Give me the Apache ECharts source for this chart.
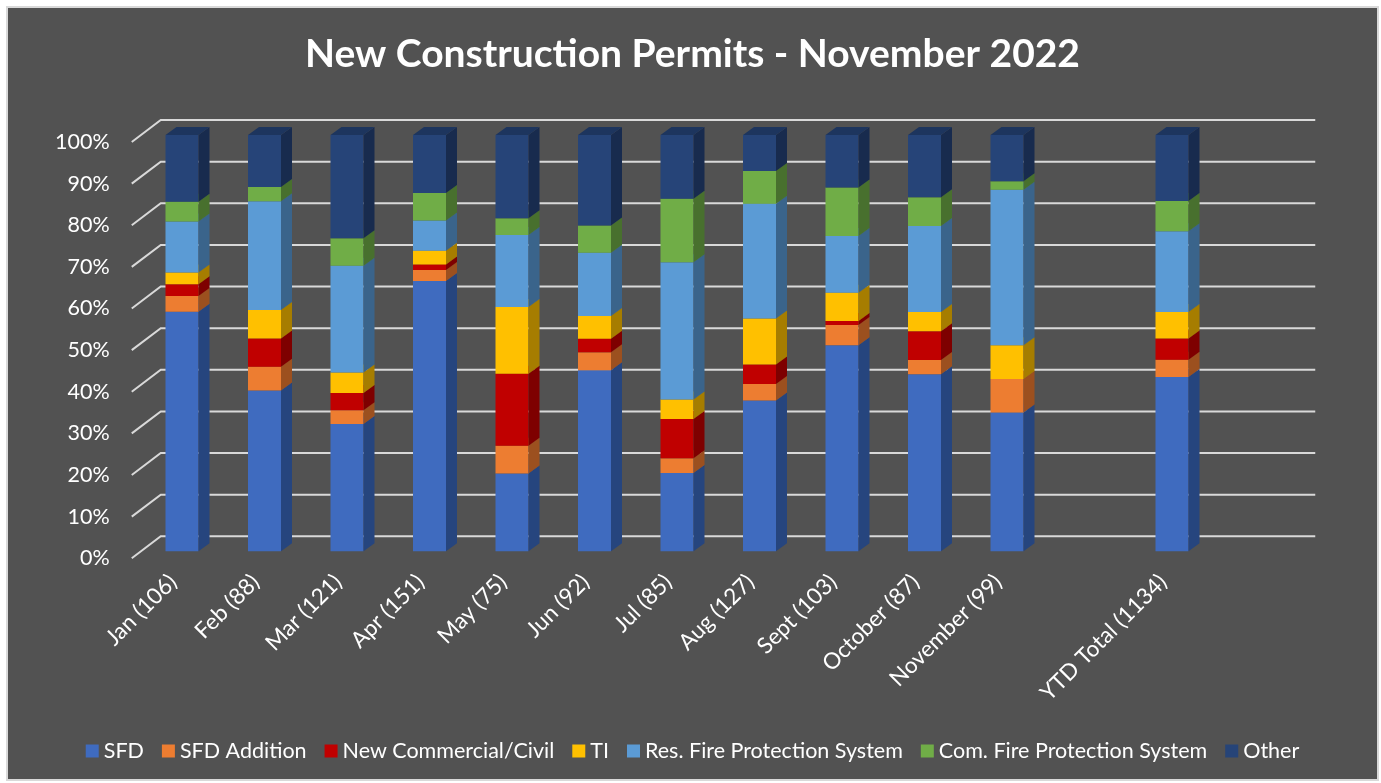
<!DOCTYPE html>
<html>
<head>
<meta charset="utf-8">
<script src="https://cdn.jsdelivr.net/npm/echarts@6/dist/echarts.min.js"></script>
<style>
    html, body { margin: 0; padding: 0; background: #ffffff; }
    #chart {
        position: absolute;
        left: 6px;
        top: 6px;
        width: 1369px;
        height: 771px;
        border: 2px solid #d9d9d9;
        background: #525252;
    }
</style>
</head>
<body>
<div id="chart"></div>
<script>
// permit counts per month, blank slot before YTD
const categories = ['Jan (106)', 'Feb (88)', 'Mar (121)', 'Apr (151)', 'May (75)', 'Jun (92)', 'Jul (85)',
    'Aug (127)', 'Sept (103)', 'October (87)', 'November (99)', '', 'YTD Total (1134)'];

const sfd           = [61, 34, 37, 98, 14, 40, 16, 46, 51, 37, 33, null, 475];
const sfdAddition   = [4, 5, 4, 4, 5, 4, 3, 5, 5, 3, 8, null, 47];
const newCommercial = [3, 6, 5, 2, 13, 3, 8, 6, 1, 6, 0, null, 58];
const ti            = [3, 6, 6, 5, 12, 5, 4, 14, 7, 4, 8, null, 72];
const resFire       = [13, 23, 31, 11, 13, 14, 28, 35, 14, 18, 37, null, 220];
const comFire       = [5, 3, 8, 10, 3, 6, 13, 10, 12, 6, 2, null, 82];
const other         = [17, 11, 30, 21, 15, 20, 13, 11, 13, 13, 11, null, 180];

const seriesNames = ['SFD', 'SFD Addition', 'New Commercial/Civil', 'TI',
    'Res. Fire Protection System', 'Com. Fire Protection System', 'Other'];
const seriesValues = [sfd, sfdAddition, newCommercial, ti, resFire, comFire, other];

const yTicks = [0, 0.1, 0.2, 0.3, 0.4, 0.5, 0.6, 0.7, 0.8, 0.9, 1];

// front / side / top face colours
const faceColors = [
    ['#3F6BBF', '#26457E', '#2E5294'],
    ['#ED7D31', '#9C501F', '#B55F25'],
    ['#C00000', '#7E0000', '#940000'],
    ['#FFC000', '#A67D00', '#C29200'],
    ['#5B9BD5', '#3A648B', '#4577A3'],
    ['#70AD47', '#48702E', '#558436'],
    ['#264478', '#182B4E', '#1D355E']
];

const fontMain = 'Lato, "Open Sans", sans-serif';
const textColor = '#ffffff';
const gridColor = '#d9d9d9';

const barShift = [9, -7];   // bars sit a little behind the front plane
const barDepth = [11, 8];
const wallDepth = [29, 22];
const wallExtra = 111;

// cumulative fractions -> [cat, lo, hi]
const totals = categories.map((c, i) => {
    let s = 0;
    seriesValues.forEach(arr => { s += arr[i] || 0; });
    return s;
});

function stackedData(k) {
    return categories.map((c, i) => {
        if (!totals[i]) return [i, 0, 0];
        let lo = 0;
        for (let j = 0; j < k; j++) lo += seriesValues[j][i] || 0;
        const hi = lo + (seriesValues[k][i] || 0);
        return [i, lo / totals[i], hi / totals[i]];
    });
}

function makeBarRenderer(colors) {
    return function (params, api) {
        const lo = api.value(1);
        const hi = api.value(2);
        if (!(hi - lo > 0)) return;
        const b = api.coord([api.value(0), lo]);
        const t = api.coord([api.value(0), hi]);
        const w = api.size([1, 0])[0] * 0.4;
        const x0 = b[0] + barShift[0] - w / 2;
        const x1 = x0 + w;
        const yb = b[1] + barShift[1];
        const yt = t[1] + barShift[1];
        const dx = barDepth[0], dy = barDepth[1];
        return {
            type: 'group',
            children: [
                { type: 'rect', shape: { x: x0, y: yt, width: w, height: yb - yt }, style: { fill: colors[0] } },
                { type: 'polygon', shape: { points: [[x1, yb], [x1 + dx, yb - dy], [x1 + dx, yt - dy], [x1, yt]] }, style: { fill: colors[1] } },
                { type: 'polygon', shape: { points: [[x0, yt], [x1, yt], [x1 + dx, yt - dy], [x0 + dx, yt - dy]] }, style: { fill: colors[2] } }
            ]
        };
    };
}

function renderWallLine(params, api) {
    const y = api.coord([0, api.value(1)])[1];
    const left = params.coordSys.x;
    const right = params.coordSys.x + params.coordSys.width + wallExtra;
    return {
        type: 'polyline',
        shape: { points: [[left, y], [left + wallDepth[0], y - wallDepth[1]], [right, y - wallDepth[1]]] },
        style: { stroke: gridColor, lineWidth: 2, fill: null }
    };
}

const series = [{
    type: 'custom',
    name: 'wall',
    z: 1,
    silent: true,
    encode: { x: 0, y: 1 },
    data: yTicks.map(v => [0, v]),
    renderItem: renderWallLine
}];

seriesNames.forEach((name, k) => {
    series.push({
        type: 'custom',
        name: name,
        z: 2,
        encode: { x: 0, y: [1, 2] },
        itemStyle: { color: faceColors[k][0] },
        data: stackedData(k),
        renderItem: makeBarRenderer(faceColors[k])
    });
});

const chart = echarts.init(document.getElementById('chart'));
chart.setOption({
    animation: false,
    backgroundColor: '#525252',
    title: {
        text: 'New Construction Permits - November 2022',
        left: 'center',
        top: 22,
        textStyle: { color: textColor, fontFamily: fontMain, fontWeight: 'bold', fontSize: 39 }
    },
    legend: {
        data: seriesNames,
        bottom: 12,
        left: 'center',
        icon: 'rect',
        itemWidth: 13,
        itemHeight: 13,
        itemGap: 18,
        textStyle: { color: textColor, fontFamily: fontMain, fontSize: 21.5 }
    },
    grid: { left: 123.75, top: 134, width: 1072.5, height: 416.3 },
    xAxis: {
        type: 'category',
        data: categories,
        axisLine: { show: false },
        axisTick: { show: false },
        axisLabel: { interval: 0, rotate: 45, margin: 20, color: textColor, fontFamily: fontMain, fontSize: 22.5 }
    },
    yAxis: {
        type: 'value',
        min: 0,
        max: 1,
        interval: 0.1,
        splitLine: { show: false },
        axisLine: { show: false },
        axisTick: { show: false },
        axisLabel: {
            margin: 22,
            color: textColor,
            fontFamily: fontMain,
            fontSize: 21.5,
            formatter: v => Math.round(v * 100) + '%'
        }
    },
    series: series
});
</script>
</body>
</html>
